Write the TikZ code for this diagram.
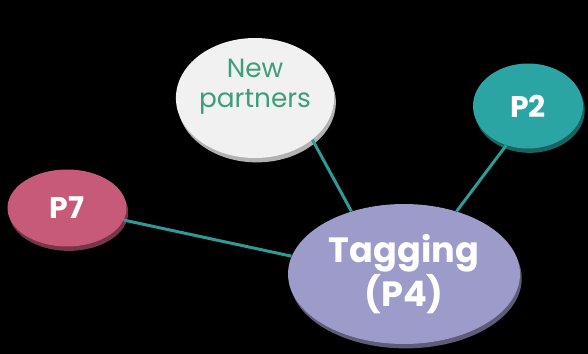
\documentclass[tikz,border=0pt]{standalone}
\usepackage{fontspec}
\setmainfont{Poppins}
\usetikzlibrary{shapes.geometric,shadows}
\definecolor{pseven}{HTML}{C65A78}
\definecolor{ptwo}{HTML}{2AA5A3}
\definecolor{tag}{HTML}{9C9BC9}
\definecolor{partner}{HTML}{F1F1F1}
\definecolor{partnertext}{HTML}{3C9E7B}
\definecolor{linkcol}{HTML}{2E9C96}
\tikzstyle{disc} = [ellipse, inner sep=0pt, align=center]
\tikzstyle{link} = [linkcol, line width=1.7pt]

\begin{document}
\begin{tikzpicture}[x=0.02cm, y=-0.02cm]
  % backdrop
  \fill[black] (0,0) rectangle (588,354);

  % New partners
  \node[disc, fill=partner, drop shadow={fill=black!30, shadow xshift=1pt, shadow yshift=-2.5pt, opacity=1},
    minimum width=3cm, minimum height=2.4cm,
    text=partnertext, font=\fontsize{15}{17}\selectfont] (partners) at (255,98)
    {New\\partners\\\mbox{}};

  % P2
  \node[disc, fill=ptwo, drop shadow={fill=ptwo!60!black, shadow xshift=1pt, shadow yshift=-2.5pt, opacity=1},
    minimum width=2.2cm, minimum height=1.7cm,
    text=white, font=\fontsize{17}{19}\selectfont\bfseries] (p2) at (528,106) {P2};

  % P7
  \node[disc, fill=pseven, drop shadow={fill=pseven!60!black, shadow xshift=1pt, shadow yshift=-2.5pt, opacity=1},
    minimum width=2.38cm, minimum height=1.54cm,
    text=white, font=\fontsize{17}{19}\selectfont\bfseries] (p7) at (67,208) {P7};

  % Tagging (P4)
  \node[disc, fill=tag, drop shadow={fill=tag!60!black, shadow xshift=1pt, shadow yshift=-2.5pt, opacity=1},
    minimum width=4.64cm, minimum height=2.8cm,
    text=white, font=\fontsize{20}{20}\selectfont\bfseries] (p4) at (404,274)
    {Tagging\\(P4)};

  % links
  \draw[link] (p7.-12) -- (p4.171);
  \draw[link] (partners.-36) -- (p4.130);
  \draw[link] (p2.-119) -- (p4.50);
\end{tikzpicture}
\end{document}
